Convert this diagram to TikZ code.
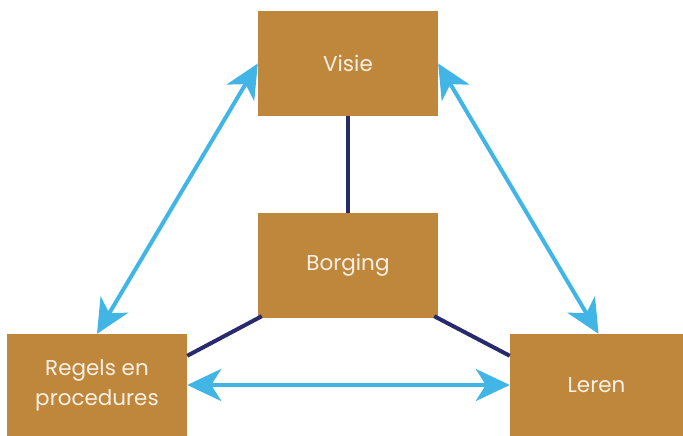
\documentclass[tikz,border=0pt]{standalone}
\usepackage{fontspec}
\setmainfont{Poppins}
\usetikzlibrary{arrows.meta}
\definecolor{boxfill}{HTML}{BF873B}
\definecolor{navy}{HTML}{282A6E}
\definecolor{skyblue}{HTML}{40B5E6}
\definecolor{cream}{HTML}{F7F0E6}
\begin{document}
\begin{tikzpicture}[x=1pt,y=-1pt,
  box/.style={rectangle, fill=boxfill, inner sep=0pt, text=cream, align=center,
    font=\fontsize{21.5}{30}\selectfont},
  link/.style={draw=navy, line width=4pt},
  biarrow/.style={draw=skyblue, line width=4pt,
    {Stealth[length=34pt,width=32pt,inset=10pt]}-{Stealth[length=34pt,width=32pt,inset=10pt]}}]
\useasboundingbox (0,0) rectangle (683,436);
\node[box, minimum width=180pt, minimum height=105pt] (visie) at (348,63.5) {Visie};
\node[box, minimum width=180pt, minimum height=105pt] (borging) at (348,265.5) {Borging};
\node[box, minimum width=180pt, minimum height=102pt] (regels) at (97,385) {Regels en\\procedures};
\node[box, minimum width=173pt, minimum height=102pt] (leren) at (596.5,385) {Leren};
\draw[link] (visie.south) -- (borging.north);
\draw[link] ([xshift=4pt,yshift=2pt]borging.south west) -- ([yshift=-22pt]regels.north east);
\draw[link] ([xshift=-4pt,yshift=2pt]borging.south east) -- ([yshift=-22pt]leren.north west);
\draw[biarrow] (regels.north) -- (visie.west);
\draw[biarrow] (visie.east) -- ([xshift=2pt]leren.north);
\draw[biarrow] (regels.east) -- (leren.west);
\end{tikzpicture}
\end{document}
